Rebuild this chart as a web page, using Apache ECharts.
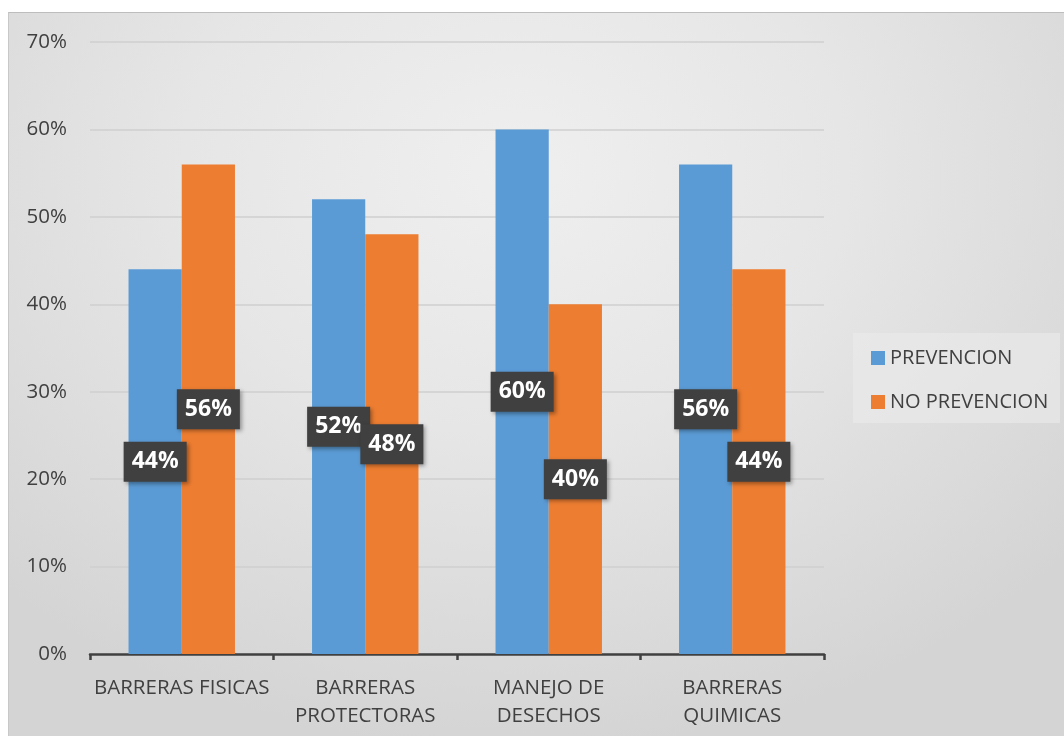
<!DOCTYPE html>
<html><head><meta charset="utf-8">
<script src="https://cdn.jsdelivr.net/npm/echarts@6/dist/echarts.min.js"></script>
<style>
html,body{margin:0;padding:0;background:#fff;}
#bg{position:absolute;left:8px;top:12px;width:1056px;height:724px;box-sizing:border-box;border-top:1px solid #bdbdbd;border-left:1px solid #c8c8c8;
background:radial-gradient(ellipse 70% 80% at 48% 22%, #efefef 0%, #e6e6e6 45%, #d4d4d4 100%);}
#legbg{position:absolute;left:853px;top:333px;width:207px;height:90px;background:rgba(235,235,235,0.6);}
#chart{position:absolute;left:0;top:0;width:1064px;height:736px;}
</style></head>
<body>
<div id="bg"></div><div id="legbg"></div>
<div id="chart"></div>
<script>
const categories = ['BARRERAS FISICAS', 'BARRERAS\nPROTECTORAS', 'MANEJO DE\nDESECHOS', 'BARRERAS\nQUIMICAS'];
const prevencion = [44, 52, 60, 56];
const noPrevencion = [56, 48, 40, 44];
const yTicks = [0, 10, 20, 30, 40, 50, 60, 70];

const font = '"Open Sans", "Noto Sans", sans-serif';
const chart = echarts.init(document.getElementById('chart'), null, {renderer: 'canvas'});
const labelStyle = {
  show: true, position: 'inside', formatter: p => p.value + '%',
  color: '#fff', fontWeight: 'bold', fontSize: 23, fontFamily: font,
  backgroundColor: '#404040', padding: [10, 8, 7, 8],
  shadowColor: 'rgba(0,0,0,0.35)', shadowBlur: 4, shadowOffsetX: 2, shadowOffsetY: 2
};
chart.setOption({
  backgroundColor: 'transparent',
  textStyle: {fontFamily: font},
  grid: {left: 90, right: 240, top: 42, bottom: 82, containLabel: false},
  legend: {
    orient: 'vertical', left: 866, top: 343, itemWidth: 14, itemHeight: 14, itemGap: 24,
    icon: 'rect',
    textStyle: {fontSize: 20, color: '#404040', fontFamily: font, padding: [0, 0, 0, 0]},
    data: ['PREVENCION', 'NO PREVENCION']
  },
  xAxis: {
    type: 'category', data: categories,
    axisLine: {lineStyle: {color: '#404040', width: 2.5}},
    axisTick: {show: true, length: 6, lineStyle: {color: '#404040', width: 2.5}},
    axisLabel: {fontSize: 20.5, color: '#404040', margin: 20, lineHeight: 28, fontFamily: font, interval: 0}
  },
  yAxis: {
    type: 'value', min: yTicks[0], max: yTicks[yTicks.length - 1], interval: 10,
    axisLine: {show: false}, axisTick: {show: false},
    axisLabel: {fontSize: 20.5, color: '#404040', margin: 23, formatter: v => v + '%', fontFamily: font},
    splitLine: {lineStyle: {color: '#cfcfcf', width: 1.5}}
  },
  series: [
    {name: 'PREVENCION', type: 'bar', data: prevencion, barGap: '0%', barCategoryGap: '42%',
     itemStyle: {color: '#5B9BD5'}, label: labelStyle},
    {name: 'NO PREVENCION', type: 'bar', data: noPrevencion,
     itemStyle: {color: '#ED7D31'}, label: labelStyle}
  ]
});
</script>
</body></html>
